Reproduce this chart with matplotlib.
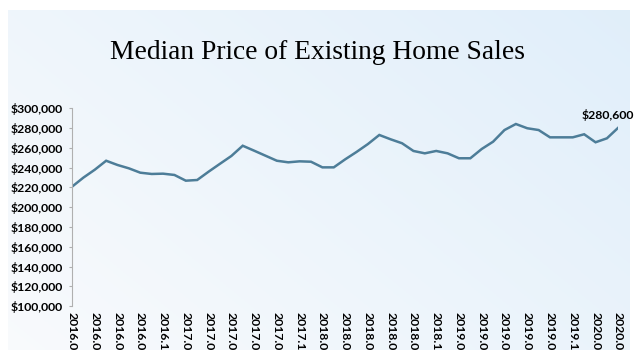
import matplotlib
matplotlib.use("Agg")
import matplotlib.pyplot as plt
import numpy as np
from matplotlib import font_manager
from matplotlib.ticker import FuncFormatter
from matplotlib.transforms import Bbox, TransformedBbox

# monthly median price, 2016.03 - 2020.03
months = []
for y in range(2016, 2021):
    for m in range(1, 13):
        if (y == 2016 and m < 3) or (y == 2020 and m > 3):
            continue
        months.append("%d.%02d" % (y, m))

prices = [220800, 230000, 238000, 247100, 242800, 239400, 235000, 233700,
          234000, 232700, 226900, 227600, 236000, 244000, 251900, 262300,
          257300, 252200, 247100, 245500, 246500, 246100, 240400, 240400,
          248500, 256000, 264000, 273200, 268800, 264800, 257000, 254600,
          257000, 254600, 249600, 249600, 259000, 266400, 278200, 284300,
          280000, 278200, 270800, 270800, 270800, 273900, 265800, 269800,
          280600]

yticks = list(range(100000, 300001, 20000))

names = {f.name for f in font_manager.fontManager.ttflist}
if "Liberation Sans Narrow" in names:
    lab_font, lab_size = "Liberation Sans Narrow", 10.2
else:
    lab_font, lab_size = "Lato", 8.8

fig = plt.figure(figsize=(6.4, 3.58), dpi=100)

# slide background with soft blue gradient
bg = fig.add_axes([8/640, 8/358, 622/640, 340/358])
gx, gy = np.meshgrid(np.linspace(0, 1, 200), np.linspace(0, 1, 120))
t = np.clip(0.6*gx + 0.4*(1 - gy), 0, 1)
c0 = np.array([0.975, 0.982, 0.99])
c1 = np.array([0.88, 0.935, 0.98])
img = c0[None, None, :]*(1 - t[..., None]) + c1[None, None, :]*t[..., None]
bg.imshow(img, aspect="auto", extent=[0, 1, 0, 1], origin="upper")
bg.axis("off")

ax = fig.add_axes([72/640, 52/358, 546.3/640, 197.5/358])
ax.patch.set_alpha(0)
x = np.arange(len(prices))
ax.plot(x, prices, color="#4d7d98", lw=1.8, solid_joinstyle="miter")

ax.set_xlim(0, len(prices) - 1)
ax.set_ylim(100000, 300000)
ax.set_yticks(yticks)
ax.yaxis.set_major_formatter(FuncFormatter(lambda v, p: "${:,.0f}".format(v)))
for s in ["top", "right", "bottom"]:
    ax.spines[s].set_visible(False)
ax.spines["left"].set_color("#b0b0b0")
ax.spines["left"].set_linewidth(0.8)
ax.tick_params(axis="y", length=2.5, color="#b0b0b0", pad=4)
ax.tick_params(axis="x", length=0, pad=4)

ax.set_xticks(x[::2])
ax.set_xticklabels(months[::2], rotation=270, va="top", ha="center")

for lab in ax.get_yticklabels():
    lab.set_fontfamily(lab_font)
    lab.set_fontweight("bold")
    lab.set_fontsize(lab_size)

# labels run off the bottom of the slide, as in the source
clip = TransformedBbox(Bbox.from_extents(0, 8/358, 1, 1), fig.transFigure)
for lab in ax.get_xticklabels():
    lab.set_fontfamily(lab_font)
    lab.set_fontweight("bold")
    lab.set_fontsize(lab_size)
    lab.set_clip_on(True)
    lab.set_clip_box(clip)

ax.annotate("${:,}".format(prices[-1]), xy=(x[-1], prices[-1]),
            xytext=(11, 5), textcoords="offset points", ha="right", va="bottom",
            fontfamily=lab_font, fontweight="bold", fontsize=lab_size)

fig.text(0.496, 0.852, "Median Price of Existing Home Sales",
         ha="center", va="center", fontfamily="Liberation Serif", fontsize=19.8)

fig.savefig("out.png", dpi=100)
